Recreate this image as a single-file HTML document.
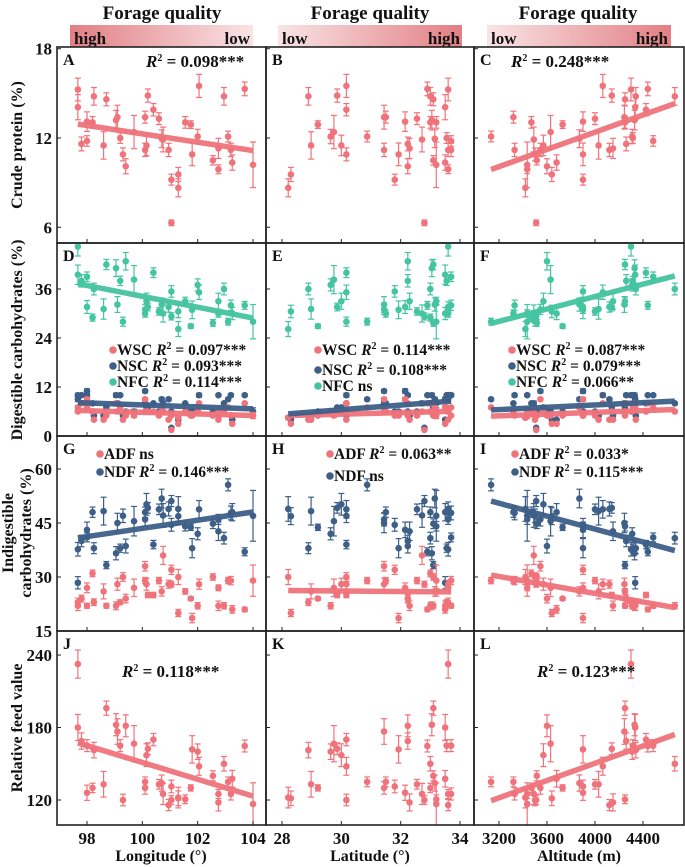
<!DOCTYPE html>
<html><head><meta charset="utf-8">
<style>
html,body{margin:0;padding:0;background:#fff;}
svg{display:block;font-family:"Liberation Serif",serif;font-weight:bold;}
</style></head>
<body>
<svg id="chart" width="685" height="867" viewBox="0 0 685 867" xmlns="http://www.w3.org/2000/svg">
<defs>
<linearGradient id="gDown" x1="0" x2="1"><stop offset="0" stop-color="#e27f84"/><stop offset="1" stop-color="#f9e4e5"/></linearGradient>
<linearGradient id="gUp" x1="0" x2="1"><stop offset="0" stop-color="#f9e4e5"/><stop offset="1" stop-color="#e27f84"/></linearGradient>
</defs>
<g font-size="19" fill="#111" text-anchor="middle">
<text x="162" y="19">Forage quality</text>
<text x="370" y="19">Forage quality</text>
<text x="578" y="19">Forage quality</text>
</g>
<rect x="70" y="25" width="183" height="22" fill="url(#gDown)"/>
<rect x="278" y="25" width="184" height="22" fill="url(#gUp)"/>
<rect x="487" y="25" width="184" height="22" fill="url(#gUp)"/>
<g font-size="17" fill="#111">
<text x="74" y="44">high</text>
<text x="250" y="44" text-anchor="end">low</text>
<text x="282" y="44">low</text>
<text x="460" y="44" text-anchor="end">high</text>
<text x="491" y="44">low</text>
<text x="668" y="44" text-anchor="end">high</text>
</g>
<g font-size="16" fill="#111" text-anchor="middle">
<text transform="translate(22,145) rotate(-90)">Crude protein (%)</text>
<text transform="translate(22,340) rotate(-90)">Digestible carbohydrates (%)</text>
<text transform="translate(13,533) rotate(-90)">Indigestible</text>
<text transform="translate(31,533) rotate(-90)">carbohydrates (%)</text>
<text transform="translate(22,728) rotate(-90)">Relative feed value</text>
<text x="161" y="861">Longitude (°)</text>
<text x="370" y="861">Latitude (°)</text>
<text x="579" y="861">Altitude (m)</text>
</g>
<g id="plots"></g>
</svg>
<script>
const lon=[97.67,97.67,97.8,98.0,98.0,98.2,98.25,98.6,98.7,99.05,99.1,99.2,99.3,99.4,99.7,100.1,100.1,100.2,100.15,100.4,100.6,100.7,100.75,100.95,101.05,101.05,101.3,101.3,101.55,101.75,101.8,102.0,102.05,102.55,102.75,102.95,103.1,103.2,103.25,103.7,104.0,102.75];
const lat=[33.6,33.5,32.24,33.7,32.15,33.0,28.89,28.98,33.1,33.05,31.44,33.55,30.17,32.24,29.75,31.5,31.44,29.86,30.0,30.17,32.55,33.15,32.72,33.6,31.8,32.8,28.3,28.21,33.2,29.21,31.93,29.64,30.17,33.1,32.3,33.0,30.87,33.7,33.5,32.9,33.2,33.6];
const alt=[4300,4335,4260,4485,3900,3470,4340,4030,4250,4330,4245,4315,3500,3600,3630,3320,3545,4140,3570,4425,4000,3870,3490,4120,3900,3510,3640,3420,4250,3730,3900,4310,4065,3515,4150,4665,3134,3330,3680,4440,3435,3435];
const cp=[15.26,14.07,11.6,11.8,13.1,13.05,14.8,11.5,14.6,13.2,13.4,12.0,10.9,10.1,12.4,13.4,11.2,14.85,11.5,13.9,13.3,11.95,11.9,11.2,9.2,6.3,9.55,8.65,13.05,12.9,10.9,12.1,15.5,10.5,11.3,14.8,12.1,11.2,10.35,15.3,10.2,9.9];
const wsc=[6,7,8,7,9,6,4,4,5,8,6,7,4,5,5,6,9,6,6,6,5,7,6,4,5,1.5,3,4.5,6,5,5,6,8,5,4,6,7,5,3,8,5,6];
const nsc=[10,9,10,10,11,8,5,5,7,10,8,10,5,6,6,8,11,7,7,8,6,9,8,9,6,2,4,4.5,8,6,6,6,10,6,5,8,9,10,4,10,6,10];
const nfc=[46.4,39.5,38,39,31.6,29,36,31.1,42,41.1,32.2,38,28,42.8,38.3,30,31,31.6,33,40,30.5,32.2,30,31.6,35.4,29.3,30.5,26.2,33,26.9,30.9,37,35.2,27.7,33,36,28,32,30,32,28,30];
const adf=[23,22,24,22,27,31,23,26,22,22,28,23,30,24,27,29,33,25,28,25,29,26,36,28,32,28,20,30,26,24,18.6,22,28,30,22,22,29,29,21,21,29,27];
const ndf=[37.7,28.4,40,41,43.1,48,38,48.3,33.3,36.6,45,38,47,38.6,45.5,48,46,49.2,50.2,39,48.8,51.8,47.1,48.9,44.5,51.1,46.9,48.9,44.1,43.8,38,42,48.8,44.8,42.7,40.8,55.6,47.8,48,37,47,46];
const rfv=[232.5,180,168.8,165,126,130,161.3,133,196,182.3,176.7,165,120,181.4,166.6,135,130,162.4,157.1,170,133,134,125,115.8,131.2,120,121.4,122,120.6,130,161.9,160,147.9,140,118,150,135,125,137.6,164.7,116.7,125];
const errRel=[0.05,0.06,0.04,0.03,0.05,0.03,0.04,0.08,0.03,0.05,0.06,0.03,0.04,0.05,0.09,0.03,0.04,0.03,0.06,0.03,0.03,0.05,0.07,0.04,0.04,0.03,0.05,0.07,0.03,0.02,0.07,0.04,0.05,0.03,0.06,0.04,0.03,0.04,0.05,0.03,0.15,0.03];
const lonTicks=[98,100,102,104];
const latTicks=[28,30,32,34];
const altTicks=[3200,3600,4000,4400];
const cpTicks=[6,12,18];
const digTicks=[0,12,24,36];
const indTicks=[15,30,45,60];
const rfvTicks=[120,180,240];

const NS="http://www.w3.org/2000/svg";
const RED="#f0737b",BLUE="#3d5f88",TEAL="#45c4a2";
const cols=[
 {x0:57,x1:266,x:v=>87+(v-98)*27.67,data:lon,ticks:lonTicks},
 {x0:266,x1:474,x:v=>282+(v-28)*29.67,data:lat,ticks:latTicks},
 {x0:474,x1:684,x:v=>499+(v-3200)*0.12,data:alt,ticks:altTicks}];
const rows=[
 {y0:47,y1:243,y:v=>138-(v-12)*14.88,ticks:cpTicks},
 {y0:243,y1:436,y:v=>436-v*4.083,ticks:digTicks},
 {y0:436,y1:631,y:v=>631-(v-15)*3.6,ticks:indTicks},
 {y0:631,y1:825,y:v=>800-(v-120)*1.208,ticks:rfvTicks}];
const root=document.getElementById('plots');
function mk(tag,attrs,parent){const e=document.createElementNS(NS,tag);for(const k in attrs)e.setAttribute(k,attrs[k]);(parent||root).appendChild(e);return e;}
function txt(x,y,s,size,parent,anchor){const t=mk('text',{x:x,y:y,'font-size':size,'text-anchor':anchor||'start',fill:'#111'},parent);t.innerHTML=s;return t;}
function fit(xs,ys){const n=xs.length;let mx=0,my=0;for(let i=0;i<n;i++){mx+=xs[i];my+=ys[i];}mx/=n;my/=n;let sxy=0,sxx=0;for(let i=0;i<n;i++){sxy+=(xs[i]-mx)*(ys[i]-my);sxx+=(xs[i]-mx)**2;}const b=sxy/sxx;return {a:my-b*mx,b:b,min:Math.min(...xs),max:Math.max(...xs)};}
const rowSeries=[
 [{v:cp,c:RED,n:'cp'}],
 [{v:nfc,c:TEAL,n:'nfc'},{v:nsc,c:BLUE,n:'nsc'},{v:wsc,c:RED,n:'wsc'}],
 [{v:ndf,c:BLUE,n:'ndf'},{v:adf,c:RED,n:'adf'}],
 [{v:rfv,c:RED,n:'rfv'}]];
const fitted=[[['cp'],[],['cp']],[['nfc','nsc','wsc'],['nsc','wsc'],['nfc','nsc','wsc']],[['ndf'],['adf'],['ndf','adf']],[['rfv'],[],['rfv']]];
const letters=['A','B','C','D','E','F','G','H','I','J','K','L'];
let clipId=0;
rows.forEach((R,ri)=>{
 cols.forEach((C,ci)=>{
  const g=mk('g',{});
  
  
  const cid='clip'+(clipId++);
  const cp_=mk('clipPath',{id:cid},g);mk('rect',{x:C.x0,y:R.y0,width:C.x1-C.x0,height:R.y1-R.y0},cp_);
  const inner=mk('g',{'clip-path':'url(#'+cid+')'},g);
  rowSeries[ri].forEach(s=>{
   const sg=mk('g',{},inner);
   
   
   s.v.forEach((val,i)=>{
    const px=C.x(C.data[i]),py=R.y(val),e=Math.abs(R.y(val*(1+errRel[i]))-py);
    const p=mk('g',{stroke:s.c,'stroke-width':1.2},sg);
    
    
    mk('line',{x1:px,x2:px,y1:py-e,y2:py+e},p);
    mk('line',{x1:px-3,x2:px+3,y1:py-e,y2:py-e},p);
    mk('line',{x1:px-3,x2:px+3,y1:py+e,y2:py+e},p);
    mk('circle',{cx:px,cy:py,r:3.3,fill:s.c,stroke:'none'},p);
   });
  });
  rowSeries[ri].slice().reverse().forEach(s=>{
   if(fitted[ri][ci].indexOf(s.n)<0)return;
   const f=fit(C.data,s.v);
   const l=mk('line',{x1:C.x(f.min),y1:R.y(f.a+f.b*f.min),x2:C.x(f.max),y2:R.y(f.a+f.b*f.max),stroke:s.c,'stroke-width':5.5,'stroke-linecap':'butt',opacity:0.95},inner);
   
   
  });
  R.ticks.forEach(t=>{const y=R.y(t);if(y<R.y0-0.5||y>R.y1+0.5)return;mk('line',{x1:C.x0,x2:C.x0+4,y1:y,y2:y,stroke:'#222','stroke-width':1},g);});
  C.ticks.forEach(t=>{const x=C.x(t);mk('line',{x1:x,x2:x,y1:R.y1,y2:R.y1-4,stroke:'#222','stroke-width':1},g);});
  mk('rect',{x:C.x0,y:R.y0,width:C.x1-C.x0,height:R.y1-R.y0,fill:'none',stroke:'#222','stroke-width':1.6},g);
  const lt=txt(C.x0+6,R.y0+18,letters[ri*3+ci],16,g);
  
  
 });
 R.ticks.forEach(t=>{const lb=txt(52,R.y(t)+6,String(t),17,root,'end');
  
  });
});
cols.forEach(C=>{C.ticks.forEach(t=>{const lb=txt(C.x(t),844,String(t),17,root,'middle');
 
 });});
const R2='<tspan font-style="italic">R</tspan><tspan font-size="10" dy="-6">2</tspan><tspan dy="6"> = </tspan>';
function ann(x,y,s,size){const t=txt(x,y,s,size||15);}
ann(146,67,R2+'0.098***',17);
ann(511,67,R2+'0.248***',17);
ann(122,677,R2+'0.118***',17);
ann(537,677,R2+'0.123***',17);
function leg(x,y,c,s){const g=mk('g',{});mk('circle',{cx:x,cy:y-5,r:3.8,fill:c},g);txt(x+4,y,s,15.5,g);}
leg(113,355,RED,'WSC '+R2+'0.097***');leg(113,371,BLUE,'NSC '+R2+'0.093***');leg(113,387,TEAL,'NFC '+R2+'0.114***');
leg(318,355,RED,'WSC '+R2+'0.114***');leg(318,375,BLUE,'NSC '+R2+'0.108***');leg(318,391,TEAL,'NFC ns');
leg(512,355,RED,'WSC '+R2+'0.087***');leg(512,371,BLUE,'NSC '+R2+'0.079***');leg(512,387,TEAL,'NFC '+R2+'0.066**');
leg(100,459,RED,'ADF ns');leg(100,477,BLUE,'NDF '+R2+'0.146***');
leg(330,459,RED,'ADF '+R2+'0.063**');leg(330,481,BLUE,'NDF ns');
leg(515,459,RED,'ADF '+R2+'0.033*');leg(515,477,BLUE,'NDF '+R2+'0.115***');
</script>
</body></html>
